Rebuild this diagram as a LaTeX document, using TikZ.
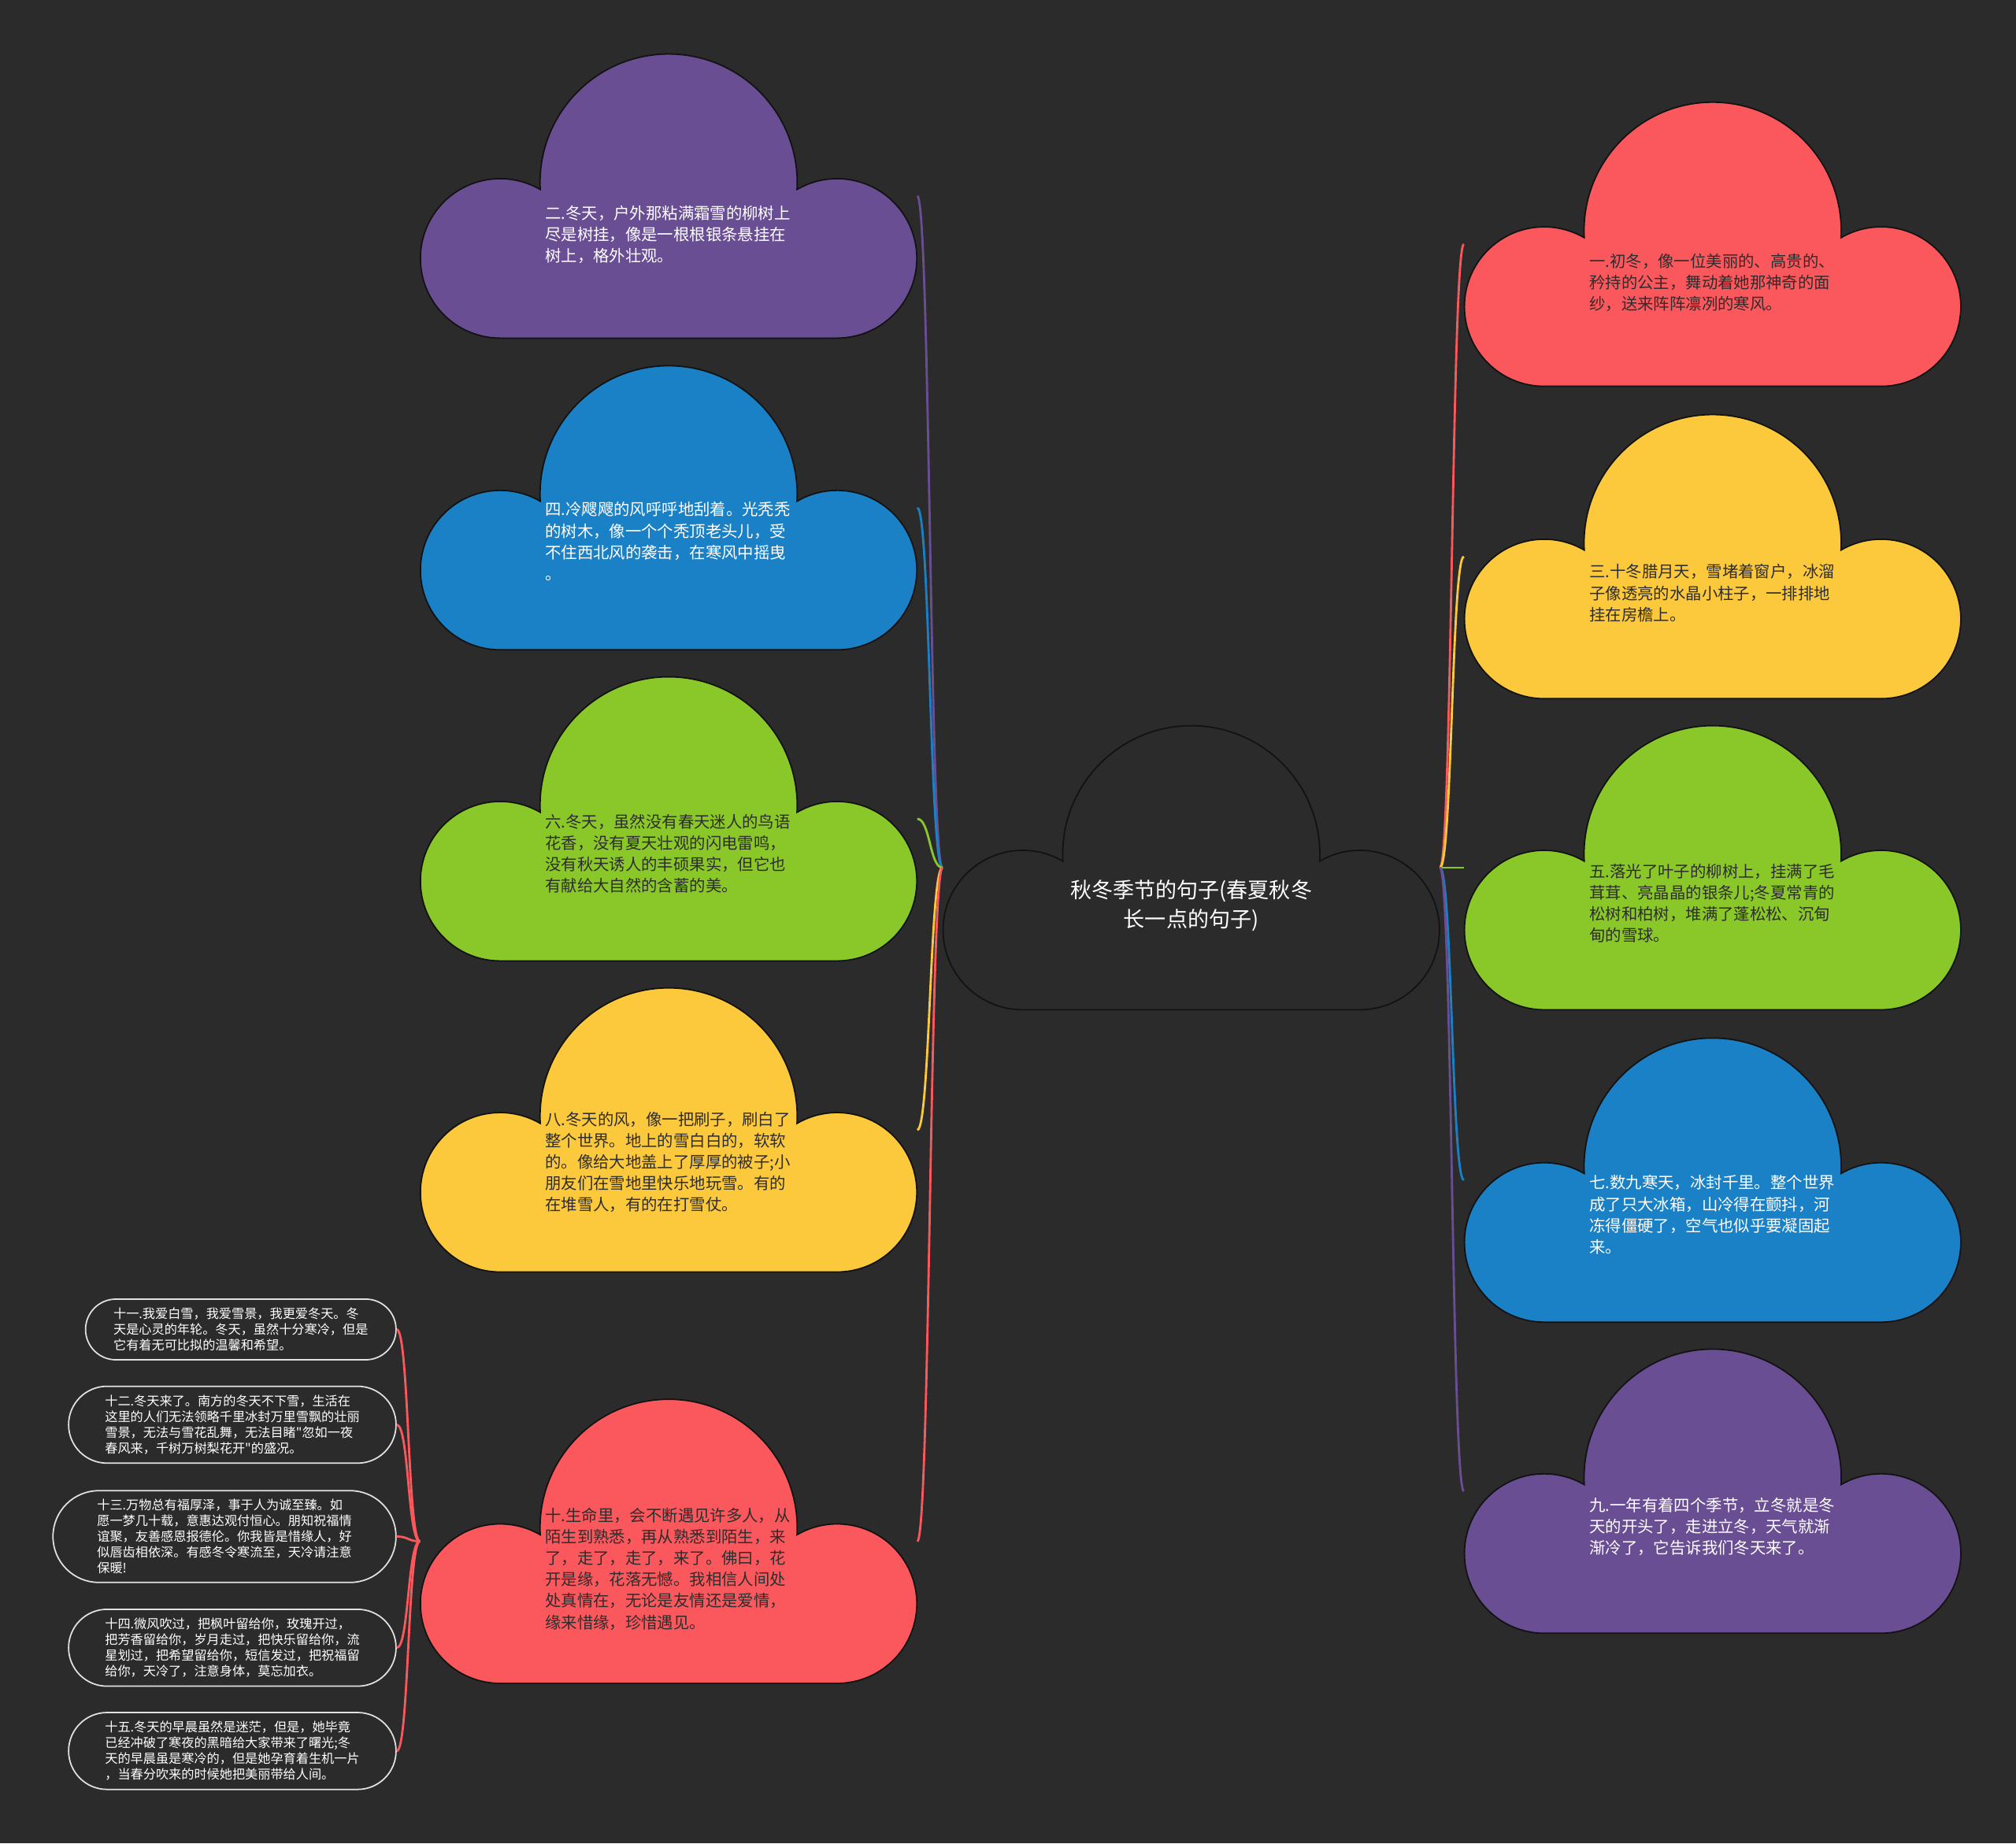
\documentclass[tikz,border=0pt]{standalone}
\definecolor{bg}{RGB}{43,43,43}
\definecolor{cpurple}{RGB}{106,78,148}
\definecolor{cblue}{RGB}{27,129,198}
\definecolor{cgreen}{RGB}{138,200,41}
\definecolor{cyellow}{RGB}{253,201,60}
\definecolor{cred}{RGB}{250,88,93}
\definecolor{ink}{RGB}{45,45,45}
\definecolor{rim}{RGB}{18,18,18}
\definecolor{leafline}{RGB}{225,225,225}
\usepackage{fontspec}
\newfontfamily\cjk{Noto Sans CJK SC}
\usepackage{tikz}

\tikzset{
  pics/cloud/.style={code={
    \draw[fill=#1,draw=rim,line width=0.5pt] (-131,-110.5)
      arc[start angle=270,end angle=59.8,radius=1.0123cm]
      arc[start angle=183.1,end angle=-3.1,radius=1.6327cm]
      arc[start angle=120.2,end angle=-90,radius=1.0123cm] -- cycle;
  }},
  spot/.style={minimum width=6.302cm,minimum height=3.608cm,inner sep=0pt},
  says/.style={anchor=west,align=left,inner sep=0pt,font=\cjk\fontsize{5.8}{7.73}\selectfont},
  leaf/.style={draw=leafline,line width=0.5pt,fill=bg,text=white,rounded corners=#1,
    minimum height=2*#1,inner sep=0pt,align=left,font=\cjk\fontsize{4.6}{5.69}\selectfont},
  link/.style={line width=0.8pt}
}

\begin{document}
\begin{tikzpicture}[x=0.016327cm,y=0.016327cm]
        \fill[bg] (0,0) rectangle (1568,-1434);
        \node[spot] (root) at (926.5,-675) {};
        \node[spot] (n2) at (520,-152.5) {};
        \node[spot] (n4) at (520,-395) {};
        \node[spot] (n6) at (520,-637) {};
        \node[spot] (n8) at (520,-879) {};
        \node[spot] (n10) at (520,-1199) {};
        \node[spot] (n1) at (1332,-190) {};
        \node[spot] (n3) at (1332,-433) {};
        \node[spot] (n5) at (1332,-675) {};
        \node[spot] (n7) at (1332,-918) {};
        \node[spot] (n9) at (1332,-1160) {};
        \node[leaf=0.3853cm,minimum width=3.943cm] (n11) at (187.3,-1034.2)
          {十一.我爱白雪，我爱雪景，我更爱冬天。冬\\天是心灵的年轮。冬天，虽然十分寒冷，但是\\它有着无可比拟的温馨和希望。};
        \node[leaf=0.4882cm,minimum width=4.1585cm] (n12) at (180.7,-1108.3)
          {十二.冬天来了。南方的冬天不下雪，生活在\\这里的人们无法领略千里冰封万里雪飘的壮丽\\雪景，无法与雪花乱舞，无法目睹"忽如一夜\\春风来，千树万树梨花开"的盛况。};
        \node[leaf=0.5829cm,minimum width=4.356cm] (n13) at (174.6,-1195.3)
          {十三.万物总有福厚泽，事于人为诚至臻。如\\愿一梦几十载，意惠达观付恒心。朋知祝福情\\谊聚，友善感恩报德伦。你我皆是惜缘人，好\\似唇齿相依深。有感冬令寒流至，天冷请注意\\保暖!};
        \node[leaf=0.4882cm,minimum width=4.1585cm] (n14) at (180.7,-1281.8)
          {十四.微风吹过，把枫叶留给你，玫瑰开过，\\把芳香留给你，岁月走过，把快乐留给你，流\\星划过，把希望留给你，短信发过，把祝福留\\给你，天冷了，注意身体，莫忘加衣。};
        \node[leaf=0.4882cm,minimum width=4.1585cm] (n15) at (180.7,-1362.1)
          {十五.冬天的早晨虽然是迷茫，但是，她毕竟\\已经冲破了寒夜的黑暗给大家带来了曙光;冬\\天的早晨虽是寒冷的，但是她孕育着生机一片\\，当春分吹来的时候她把美丽带给人间。};
        \draw[link,cpurple] (root.west) .. controls +(-10,0) and +(10,0) .. (n2.east);
        \draw[link,cblue] (root.west) .. controls +(-10,0) and +(10,0) .. (n4.east);
        \draw[link,cgreen] (root.west) .. controls +(-10,0) and +(10,0) .. (n6.east);
        \draw[link,cyellow] (root.west) .. controls +(-10,0) and +(10,0) .. (n8.east);
        \draw[link,cred] (root.west) .. controls +(-10,0) and +(10,0) .. (n10.east);
        \draw[link,cred] (root.east) .. controls +(9.5,0) and +(-9.5,0) .. (n1.west);
        \draw[link,cyellow] (root.east) .. controls +(9.5,0) and +(-9.5,0) .. (n3.west);
        \draw[link,cgreen] (root.east) .. controls +(9.5,0) and +(-9.5,0) .. (n5.west);
        \draw[link,cblue] (root.east) .. controls +(9.5,0) and +(-9.5,0) .. (n7.west);
        \draw[link,cpurple] (root.east) .. controls +(9.5,0) and +(-9.5,0) .. (n9.west);
        \draw[link,cred] (n10.west) .. controls +(-9.5,0) and +(9.5,0) .. (n11.east);
        \draw[link,cred] (n10.west) .. controls +(-9.5,0) and +(9.5,0) .. (n12.east);
        \draw[link,cred] (n10.west) .. controls +(-9.5,0) and +(9.5,0) .. (n13.east);
        \draw[link,cred] (n10.west) .. controls +(-9.5,0) and +(9.5,0) .. (n14.east);
        \draw[link,cred] (n10.west) .. controls +(-9.5,0) and +(9.5,0) .. (n15.east);
        \pic at (root) {cloud=bg};
        \node[align=center,inner sep=0pt,text=white,font=\cjk\fontsize{7.7}{10.6}\selectfont]
          (roottext) at (926.5,-704.5) {秋冬季节的句子(春夏秋冬\\长一点的句子)};
        \pic at (n2) {cloud=cpurple};
        \node[says,text=white] (t2) at (423.6,-182.4)
          {二.冬天，户外那粘满霜雪的柳树上\\尽是树挂，像是一根根银条悬挂在\\树上，格外壮观。};
        \pic at (n4) {cloud=cblue};
        \node[says,text=white] (t4) at (423.6,-421.2)
          {四.冷飕飕的风呼呼地刮着。光秃秃\\的树木，像一个个秃顶老头儿，受\\不住西北风的袭击，在寒风中摇曳\\。};
        \pic at (n6) {cloud=cgreen};
        \node[says,text=ink] (t6) at (423.6,-664)
          {六.冬天，虽然没有春天迷人的鸟语\\花香，没有夏天壮观的闪电雷鸣，\\没有秋天诱人的丰硕果实，但它也\\有献给大自然的含蓄的美。};
        \pic at (n8) {cloud=cyellow};
        \node[says,text=ink] (t8) at (423.6,-904.1)
          {八.冬天的风，像一把刷子，刷白了\\整个世界。地上的雪白白的，软软\\的。像给大地盖上了厚厚的被子;小\\朋友们在雪地里快乐地玩雪。有的\\在堆雪人，有的在打雪仗。};
        \pic at (n10) {cloud=cred};
        \node[says,text=ink] (t10) at (423.6,-1220.4)
          {十.生命里，会不断遇见许多人，从\\陌生到熟悉，再从熟悉到陌生，来\\了，走了，走了，来了。佛曰，花\\开是缘，花落无憾。我相信人间处\\处真情在，无论是友情还是爱情，\\缘来惜缘，珍惜遇见。};
        \pic at (n1) {cloud=cred};
        \node[says,text=ink] (t1) at (1235.8,-219.8)
          {一.初冬，像一位美丽的、高贵的、\\矜持的公主，舞动着她那神奇的面\\纱，送来阵阵凛冽的寒风。};
        \pic at (n3) {cloud=cyellow};
        \node[says,text=ink] (t3) at (1235.8,-461.4)
          {三.十冬腊月天，雪堵着窗户，冰溜\\子像透亮的水晶小柱子，一排排地\\挂在房檐上。};
        \pic at (n5) {cloud=cgreen};
        \node[says,text=ink] (t5) at (1235.8,-702.8)
          {五.落光了叶子的柳树上，挂满了毛\\茸茸、亮晶晶的银条儿;冬夏常青的\\松树和柏树，堆满了蓬松松、沉甸\\甸的雪球。};
        \pic at (n7) {cloud=cblue};
        \node[says,text=white] (t7) at (1235.8,-945)
          {七.数九寒天，冰封千里。整个世界\\成了只大冰箱，山冷得在颤抖，河\\冻得僵硬了，空气也似乎要凝固起\\来。};
        \pic at (n9) {cloud=cpurple};
        \node[says,text=white] (t9) at (1235.8,-1187.5)
          {九.一年有着四个季节，立冬就是冬\\天的开头了，走进立冬，天气就渐\\渐冷了，它告诉我们冬天来了。};
      \end{tikzpicture}
\end{document}
